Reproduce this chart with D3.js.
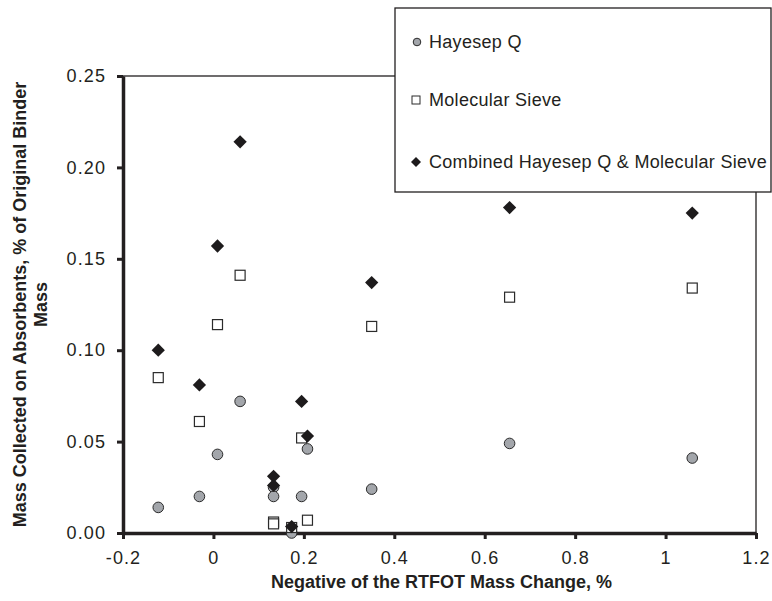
<!DOCTYPE html>
<html>
<head>
<meta charset="utf-8">
<script src="https://cdn.jsdelivr.net/npm/d3@7"></script>
<style>
  body { margin: 0; background: #fff; }
  text { font-family: "Liberation Sans", Arial, sans-serif; fill: #231f20; }
</style>
</head>
<body>
<svg id="absorbents" width="772" height="601"></svg>
<script>
// values
var massChange = [-0.122, -0.031, 0.009, 0.059, 0.133, 0.133, 0.173, 0.195, 0.208, 0.350, 0.655, 1.059];
var hayesep    = [0.014, 0.020, 0.043, 0.072, 0.025, 0.020, 0.000, 0.020, 0.046, 0.024, 0.049, 0.041];
var sieve      = [0.085, 0.061, 0.114, 0.141, 0.006, 0.005, 0.003, 0.052, 0.007, 0.113, 0.129, 0.134];
var combined   = [0.100, 0.081, 0.157, 0.214, 0.031, 0.026, 0.0035, 0.072, 0.053, 0.137, 0.178, 0.175];
var seriesNames = ["Hayesep Q", "Molecular Sieve", "Combined Hayesep Q & Molecular Sieve"];
var xTicks = [-0.2, 0, 0.2, 0.4, 0.6, 0.8, 1, 1.2];
var yTicks = [0, 0.05, 0.10, 0.15, 0.20, 0.25];

var svg = d3.select("#absorbents"),
  margin = { top: 76, right: 16, bottom: 68, left: 123 },
  width = +svg.attr("width") - margin.left - margin.right,
  height = +svg.attr("height") - margin.top - margin.bottom;

var x = d3.scaleLinear().domain([-0.2, 1.2]).range([0, width]),
  y = d3.scaleLinear().domain([0, 0.25]).range([height, 0]);

var g = svg.append("g")
  .attr("transform", "translate(" + margin.left + "," + margin.top + ")");

// thin frame on top and right
g.append("rect")
  .attr("width", width)
  .attr("height", height)
  .attr("fill", "none")
  .attr("stroke", "#231f20")
  .attr("stroke-width", 1.3);

var xAxis = g.append("g")
  .attr("class", "axis axis--x")
  .attr("transform", "translate(0," + height + ")")
  .call(d3.axisBottom(x).tickValues(xTicks).tickSize(6).tickSizeOuter(0).tickPadding(12)
    .tickFormat(function (d) { return d === 0 ? "0" : String(+d.toFixed(1)); }));

var yAxis = g.append("g")
  .attr("class", "axis axis--y")
  .call(d3.axisLeft(y).tickValues(yTicks).tickSize(6).tickSizeOuter(0).tickPadding(11)
    .tickFormat(d3.format(".2f")));

[xAxis, yAxis].forEach(function (a) {
  a.select(".domain").attr("stroke", "#231f20").attr("stroke-width", 3.5);
  a.selectAll(".tick line").attr("stroke", "#231f20").attr("stroke-width", 3);
  a.selectAll(".tick text")
    .attr("fill", "#231f20")
    .style("font-size", "18px")
    .style("letter-spacing", "1.1px");
});

// axis titles
g.append("text")
  .attr("x", width / 2 + 2)
  .attr("y", height + 55)
  .attr("text-anchor", "middle")
  .style("font-size", "18px")
  .style("font-weight", "bold")
  .text("Negative of the RTFOT Mass Change, %");

var yTitle = g.append("text")
  .attr("transform", "translate(" + (-97) + "," + (height / 2) + ") rotate(-90)")
  .attr("text-anchor", "middle")
  .style("font-size", "18px")
  .style("font-weight", "bold");
yTitle.append("tspan").attr("x", 0).attr("y", 0).text("Mass Collected on Absorbents, % of Original Binder");
yTitle.append("tspan").attr("x", 0).attr("y", 21).text("Mass");

var data = massChange.map(function (m, i) {
  return { m: m, hayesep: hayesep[i], sieve: sieve[i], combined: combined[i] };
});

g.selectAll(".dot-hayesep")
  .data(data)
  .enter().append("circle")
  .attr("class", "dot-hayesep")
  .attr("cx", function (d) { return x(d.m); })
  .attr("cy", function (d) { return y(d.hayesep); })
  .attr("r", 5.3)
  .attr("fill", "#a3a6ab")
  .attr("stroke", "#2b2b2b")
  .attr("stroke-width", 1);

g.selectAll(".dot-sieve")
  .data(data)
  .enter().append("rect")
  .attr("class", "dot-sieve")
  .attr("x", function (d) { return x(d.m) - 5; })
  .attr("y", function (d) { return y(d.sieve) - 5; })
  .attr("width", 10)
  .attr("height", 10)
  .attr("fill", "#fff")
  .attr("stroke", "#2b2b2b")
  .attr("stroke-width", 1.2);

var diamond = d3.symbol().type(d3.symbolSquare).size(88);

g.selectAll(".dot-combined")
  .data(data)
  .enter().append("path")
  .attr("class", "dot-combined")
  .attr("d", diamond)
  .attr("transform", function (d) { return "translate(" + x(d.m) + "," + y(d.combined) + ") rotate(45)"; })
  .attr("fill", "#1d1b1c");

// legend
var legend = svg.append("g").attr("transform", "translate(395,8)");
legend.append("rect")
  .attr("width", 376)
  .attr("height", 184)
  .attr("fill", "#fff")
  .attr("stroke", "#231f20")
  .attr("stroke-width", 1.3);

var rowY = [34, 92, 154];
legend.selectAll(".legend-label")
  .data(seriesNames)
  .enter().append("text")
  .attr("class", "legend-label")
  .attr("x", 34)
  .attr("y", function (d, i) { return rowY[i]; })
  .attr("dy", "0.35em")
  .style("font-size", "18px")
  .style("letter-spacing", "0.3px")
  .text(function (d) { return d; });

legend.append("circle")
  .attr("cx", 22).attr("cy", rowY[0])
  .attr("r", 3.8)
  .attr("fill", "#a3a6ab").attr("stroke", "#2b2b2b").attr("stroke-width", 1);
legend.append("rect")
  .attr("x", 17).attr("y", rowY[1] - 4)
  .attr("width", 8).attr("height", 8)
  .attr("fill", "#fff").attr("stroke", "#2b2b2b").attr("stroke-width", 1);
legend.append("path")
  .attr("d", d3.symbol().type(d3.symbolSquare).size(50))
  .attr("transform", "translate(21," + rowY[2] + ") rotate(45)")
  .attr("fill", "#1d1b1c");
</script>
</body>
</html>
